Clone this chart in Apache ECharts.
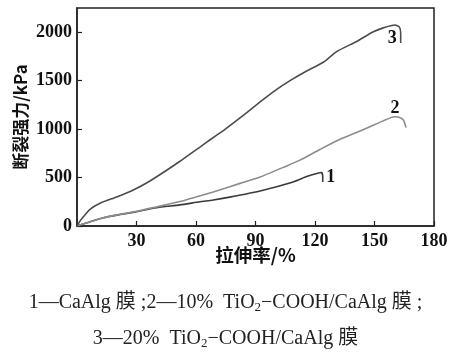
<!DOCTYPE html>
<html><head><meta charset="utf-8">
<script src="https://cdn.jsdelivr.net/npm/echarts@6/dist/echarts.min.js"></script>
<style>html,body{margin:0;padding:0;background:#fff}#c{width:451px;height:356px}</style>
</head><body><div id="c"></div>
<script>
// Series data: [elongation %, breaking strength kPa]
var curve1 = [[0,0],[3,20],[6.4,42],[13.3,85],[21.7,118],[30.1,148],[40,188],[51.9,218],[62,250],[68.7,268],[77,298],[92.3,362],[109,455],[115.8,510],[120.9,542],[123.4,552],[123.9,500],[123.9,455]];
var curve2 = [[0,0],[3,20],[6.4,42],[13.3,85],[21.7,120],[30.1,152],[40,197],[51.9,252],[60,300],[68.7,352],[82.2,440],[92.3,505],[105.7,620],[112.4,680],[122.5,790],[132.6,895],[146,1008],[154.4,1085],[160,1128],[162,1125],[164.6,1095],[165.9,1015]];
var curve3 = [[0,0],[1.5,50],[3.2,95],[6.4,170],[11.6,235],[20,300],[28.4,372],[36.8,465],[45.2,575],[51.9,668],[62,815],[67.1,890],[73.8,985],[77.1,1035],[84,1145],[92.3,1280],[100,1400],[107.4,1500],[115.8,1600],[124.2,1690],[130.9,1800],[141,1905],[149.4,2005],[154.4,2045],[160.3,2075],[162.5,2055],[163.2,1990],[163.2,1890]];
var curveNames = ['1','2','3'];
var labelCoords = [[128,505],[160.3,1215],[159,1935]];
var xName = '拉伸率/%';
var yName = '断裂强力/kPa';
var captionLine1 = '1—CaAlg 膜 ;2—10%  TiO{sub|2}−COOH/CaAlg 膜 ;';
var captionLine2 = '3—20%  TiO{sub|2}−COOH/CaAlg 膜';

var serif = '"Liberation Serif","Times New Roman","Noto Sans CJK SC",serif';
var cjk = '"Noto Sans CJK SC","Liberation Serif",sans-serif';
var colors = ['#3a3a3a','#8c8c8c','#4c4c4c'];
var datas = [curve1, curve2, curve3];

var chart = echarts.init(document.getElementById('c'), null, {renderer:'canvas'});
var series = datas.map(function(d,i){
  return {
    type:'line', data:d, showSymbol:false, symbol:'none', smooth:0.2,
    lineStyle:{color:colors[i], width:1.6}, animation:false,
    markPoint:{
      symbol:'circle', symbolSize:0, animation:false,
      label:{show:true, formatter:curveNames[i], color:'#111', fontFamily:serif, fontSize:18, fontWeight:'bold', position:'inside'},
      data:[{coord:labelCoords[i]}]
    }
  };
});
var richSub = {sub:{fontSize:13, fontFamily:serif, verticalAlign:'bottom', lineHeight:15}};
function plain(v){ return String(v); }
chart.setOption({
  animation:false,
  grid:{left:77, right:17, top:8, bottom:130, show:true, borderColor:'#222', borderWidth:1.5, backgroundColor:'transparent'},
  xAxis:{
    type:'value', min:0, max:180, interval:30,
    name:xName, nameLocation:'middle', nameGap:20, nameMoveOverlap:false,
    nameTextStyle:{fontFamily:cjk, fontSize:18.5, fontWeight:'bold', color:'#111'},
    axisLine:{show:true, lineStyle:{color:'#222', width:1.5}},
    axisTick:{show:true, inside:true, length:5, lineStyle:{color:'#222', width:1.2}},
    axisLabel:{showMinLabel:false, margin:6, fontFamily:serif, fontSize:18, fontWeight:'bold', color:'#111', formatter:plain},
    splitLine:{show:false}
  },
  yAxis:{
    type:'value', min:0, max:2250, interval:500,
    name:yName, nameLocation:'middle', nameGap:48, nameRotate:90, nameMoveOverlap:false,
    nameTextStyle:{fontFamily:cjk, fontSize:17, fontWeight:'bold', color:'#111'},
    axisLine:{show:true, lineStyle:{color:'#222', width:1.5}},
    axisTick:{show:true, inside:true, length:5, lineStyle:{color:'#222', width:1.2}},
    axisLabel:{showMaxLabel:false, margin:5, fontFamily:serif, fontSize:18, fontWeight:'bold', color:'#111', formatter:plain},
    splitLine:{show:false}
  },
  series:series,
  graphic:[
    {type:'text', left:'center', top:292, style:{text:captionLine1, font:'20px '+serif, fill:'#222', lineHeight:22, rich:richSub}},
    {type:'text', left:'center', top:328, style:{text:captionLine2, font:'20px '+serif, fill:'#222', lineHeight:22, rich:richSub}}
  ]
});
</script></body></html>
